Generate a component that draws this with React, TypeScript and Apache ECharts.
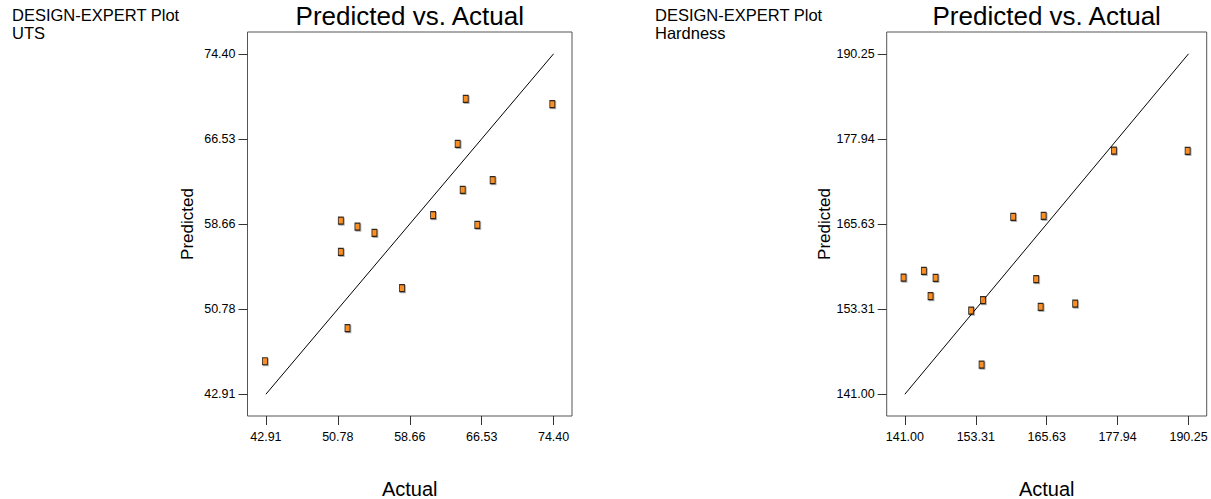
import React, { useEffect, useRef } from "react";
import * as echarts from "echarts";

const utsTicks = [42.91, 50.78, 58.66, 66.53, 74.4];
const hardTicks = [141.0, 153.31, 165.63, 177.94, 190.25];

const utsActual = [74.26, 64.78, 63.9, 67.73, 64.45, 61.21, 66.05, 51.11, 52.93, 54.79, 51.11, 57.81, 51.84, 42.8];
const utsPredicted = [69.74, 70.23, 66.07, 62.71, 61.81, 59.47, 58.57, 58.97, 58.41, 57.83, 56.07, 52.72, 49.02, 45.96];

const hardActual = [177.29, 190.09, 159.81, 165.09, 140.77, 144.3, 146.33, 145.46, 154.55, 152.51, 163.8, 164.57, 170.57, 154.32];
const hardPredicted = [176.24, 176.2, 166.65, 166.8, 157.87, 158.84, 157.83, 155.18, 154.6, 153.1, 157.64, 153.63, 154.11, 145.28];

const headers = ["UTS", "Hardness"];
const chartTitle = "Predicted vs. Actual";
const xName = "Actual";
const yName = "Predicted";

const FONT = "'Liberation Sans', Arial, sans-serif";

function pad(ticks: number[]) {
  const lo = ticks[0];
  const hi = ticks[ticks.length - 1];
  const p = (hi - lo) * 0.064;
  return { min: lo - p, max: hi + p };
}

export default function App() {
  const ref = useRef<HTMLDivElement>(null);

  useEffect(() => {
    if (!ref.current) return;
    const chart = echarts.init(ref.current, undefined, { renderer: "svg" });

    const grids = [
      { left: 247.5, top: 32, width: 324.5, height: 384 },
      { left: 886.7, top: 32, width: 320, height: 384 },
    ];
    const tickSets = [utsTicks, hardTicks];
    const nameGapsY = [52, 52];

    const xAxes = tickSets.map((t, i) => ({
      type: "value",
      gridIndex: i,
      ...pad(t),
      name: xName,
      nameLocation: "middle",
      nameGap: 63,
      nameTextStyle: { fontFamily: FONT, fontSize: 20, color: "#000" },
      axisLine: { show: false },
      axisTick: { show: true, length: 9, customValues: t, lineStyle: { color: "#333", width: 1 } },
      axisLabel: {
        customValues: t,
        formatter: (v: number) => v.toFixed(2),
        margin: 14,
        fontFamily: FONT,
        fontSize: 12.5,
        color: "#000",
      },
      splitLine: { show: false },
    }));

    const yAxes = tickSets.map((t, i) => ({
      type: "value",
      gridIndex: i,
      ...pad(t),
      name: yName,
      nameLocation: "middle",
      nameRotate: 90,
      nameGap: nameGapsY[i],
      nameTextStyle: { fontFamily: FONT, fontSize: 17, color: "#000" },
      axisLine: { show: false },
      axisTick: { show: true, length: 9, customValues: t, lineStyle: { color: "#333", width: 1 } },
      axisLabel: {
        customValues: t,
        formatter: (v: number) => v.toFixed(2),
        margin: 12,
        fontFamily: FONT,
        fontSize: 12.5,
        color: "#000",
      },
      splitLine: { show: false },
    }));

    const scatterStyle = {
      color: "#FF8000",
      borderColor: "#000",
      borderWidth: 1,
      shadowColor: "rgba(0,0,0,0.35)",
      shadowOffsetX: 1,
      shadowOffsetY: 1,
      shadowBlur: 1,
    };

    const pairs = [
      [utsActual, utsPredicted],
      [hardActual, hardPredicted],
    ];

    const series: any[] = [];
    tickSets.forEach((t, i) => {
      series.push({
        type: "line",
        xAxisIndex: i,
        yAxisIndex: i,
        data: [
          [t[0], t[0]],
          [t[t.length - 1], t[t.length - 1]],
        ],
        symbol: "none",
        lineStyle: { color: "#000", width: 1 },
        z: 2,
      });
      series.push({
        type: "scatter",
        xAxisIndex: i,
        yAxisIndex: i,
        data: pairs[i][0].map((a, k) => [a, pairs[i][1][k]]),
        symbol: "rect",
        symbolSize: [5, 7],
        itemStyle: scatterStyle,
        z: 3,
      });
    });

    const graphic: any[] = [];
    grids.forEach((g) => {
      graphic.push({
        type: "text",
        x: g.left + g.width / 2,
        y: 3,
        style: {
          text: chartTitle,
          font: `26px ${FONT}`,
          fill: "#000",
          textAlign: "center",
          textVerticalAlign: "top",
        },
      });
    });
    const headerX = [12, 655];
    headers.forEach((h, i) => {
      graphic.push({
        type: "text",
        x: headerX[i],
        y: 6,
        style: {
          text: "DESIGN-EXPERT Plot\n" + h,
          font: `16.5px ${FONT}`,
          lineHeight: 18,
          fill: "#000",
          textAlign: "left",
          textVerticalAlign: "top",
        },
      });
    });

    chart.setOption({
      animation: false,
      backgroundColor: "#fff",
      grid: grids.map((g) => ({
        ...g,
        show: true,
        borderColor: "#555",
        borderWidth: 1,
        backgroundColor: "transparent",
        containLabel: false,
        outerBoundsMode: "none",
      })),
      xAxis: xAxes,
      yAxis: yAxes,
      series,
      graphic,
    });

    return () => chart.dispose();
  }, []);

  return (
    <div
      ref={ref}
      style={{ position: "fixed", left: 0, top: 0, width: 1211, height: 499, background: "#fff" }}
    />
  );
}
